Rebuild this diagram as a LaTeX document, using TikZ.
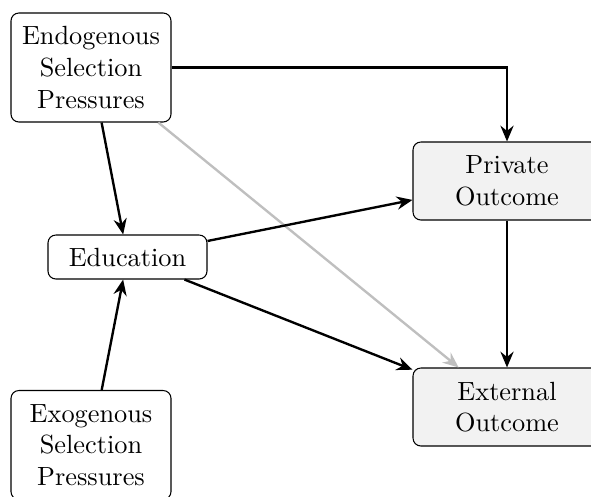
\documentclass[tikz,border=0pt]{standalone}
\usetikzlibrary{arrows.meta}
\begin{document}
\begin{tikzpicture}[x=0.38pt,y=-0.38pt,
  box/.style={draw, rounded corners=3pt, align=center, inner sep=0pt, font=\normalsize},
  causebox/.style={box, minimum width=160*0.38pt, minimum height=109*0.38pt},
  edubox/.style={box, minimum width=159*0.38pt, minimum height=44*0.38pt},
  outbox/.style={box, fill=gray!10, minimum width=188*0.38pt, minimum height=78*0.38pt},
  link/.style={-{Stealth[length=6pt,width=5pt,inset=2pt]}, line width=0.9pt},
  weaklink/.style={link, draw=gray!50}]
  \clip (0,0) rectangle (591,496);
  \useasboundingbox (0,0) rectangle (591,496);

  \node[causebox] (endo) at (91,67.5) {Endogenous\\Selection\\Pressures};
  \node[edubox]   (edu)  at (127.5,257) {Education};
  \node[causebox] (exo)  at (91,445) {Exogenous\\Selection\\Pressures};
  \node[outbox]   (priv) at (507,181) {Private\\Outcome};
  \node[outbox]   (ext)  at (507,407) {External\\Outcome};

  \draw[weaklink] (endo) -- (ext);
  \draw[link] (endo.east |- endo) -| (priv.north);
  \draw[link] (endo) -- (edu);
  \draw[link] (exo) -- (edu);
  \draw[link] (edu) -- (priv);
  \draw[link] (edu) -- (ext);
  \draw[link] (priv) -- (ext);
\end{tikzpicture}
\end{document}
